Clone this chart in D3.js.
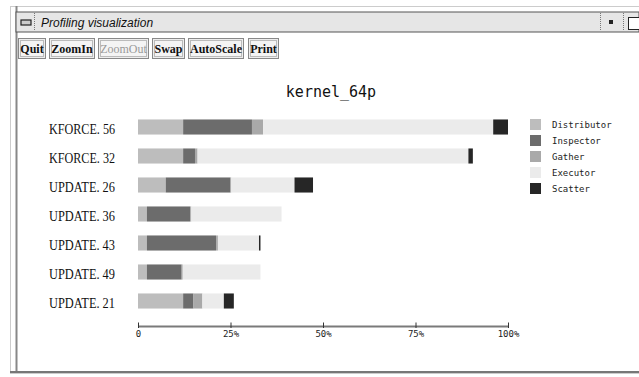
<!DOCTYPE html>
<html>
<head>
<meta charset="utf-8">
<script src="https://cdn.jsdelivr.net/npm/d3@7"></script>
<style>
  body { margin: 0; background: #fff; }
  svg { display: block; }
</style>
</head>
<body>
<div id="chart"></div>
<script>
// data (percent of total time)
var routines = ["KFORCE. 56", "KFORCE. 32", "UPDATE. 26", "UPDATE. 36", "UPDATE. 43", "UPDATE. 49", "UPDATE. 21"];
var phases = ["Distributor", "Inspector", "Gather", "Executor", "Scatter"];
var distributor = [12.2, 12.2, 7.5, 2.4, 2.4, 2.4, 12.2];
var inspector   = [18.6, 3.2, 17.5, 11.7, 18.7, 9.4, 2.8];
var gather      = [3.0, 0.7, 0.2, 0.3, 0.5, 0.3, 2.4];
var executor    = [62.2, 73.2, 17.1, 24.4, 11.1, 21.0, 5.8];
var scatter     = [4.0, 1.2, 5.0, 0, 0.4, 0, 2.7];
var tickValues = [0, 25, 50, 75, 100];
var buttons = ["Quit", "ZoomIn", "ZoomOut", "Swap", "AutoScale", "Print"];

var W = 639, H = 377;
var svg = d3.select("#chart").append("svg")
    .attr("width", W).attr("height", H);

//----------------------------
// window frame
//----------------------------
svg.append("rect").attr("x", 10.5).attr("y", 6.5).attr("width", 640).attr("height", 367)
    .attr("fill", "#fff").attr("stroke", "#999").attr("stroke-dasharray", "1,1");
svg.append("line").attr("x1", 16.5).attr("x2", 16.5).attr("y1", 6).attr("y2", 373)
    .attr("stroke", "#888").attr("stroke-width", 2);
svg.append("line").attr("x1", 10).attr("x2", 639).attr("y1", 372).attr("y2", 372)
    .attr("stroke", "#777").attr("stroke-width", 2);

// title bar
svg.append("rect").attr("x", 16).attr("y", 12).attr("width", 623).attr("height", 20)
    .attr("fill", "#e6e6e6").attr("stroke", "#555").attr("stroke-width", 1);
svg.append("rect").attr("x", 21).attr("y", 20).attr("width", 10).attr("height", 5)
    .attr("fill", "#ccc").attr("stroke", "#222").attr("stroke-width", 1.2);
[34, 600, 623].forEach(function (x) {
    svg.append("line").attr("x1", x + 0.5).attr("x2", x + 0.5).attr("y1", 13).attr("y2", 31)
        .attr("stroke", "#777").attr("stroke-dasharray", "1,1");
});
svg.append("rect").attr("x", 609).attr("y", 20).attr("width", 4).attr("height", 4).attr("fill", "#222");
svg.append("rect").attr("x", 628.5).attr("y", 17.5).attr("width", 14).attr("height", 12)
    .attr("fill", "#fff").attr("stroke", "#222");
svg.append("text").attr("x", 41).attr("y", 26.5)
    .attr("font-family", "Liberation Sans, sans-serif").attr("font-size", 12)
    .attr("font-style", "italic").attr("fill", "#111")
    .text("Profiling visualization");

// buttons
var bx = [18, 49, 98, 152, 188, 248];
var bw = [27, 45, 50, 32, 55, 30];
buttons.forEach(function (b, i) {
    var g = svg.append("g").attr("transform", "translate(" + bx[i] + ",38)");
    g.append("rect").attr("x", 0.5).attr("y", 0.5).attr("width", bw[i]).attr("height", 20)
        .attr("fill", "#eee").attr("stroke", "#888");
    g.append("rect").attr("x", 2.5).attr("y", 2.5).attr("width", bw[i] - 4).attr("height", 16)
        .attr("fill", "#f4f4f4").attr("stroke", "#bbb");
    g.append("text").attr("x", bw[i] / 2 + 0.5).attr("y", 15)
        .attr("text-anchor", "middle")
        .attr("font-family", "Liberation Serif, serif").attr("font-size", 12)
        .attr("font-weight", b === "ZoomOut" ? "normal" : "bold")
        .attr("fill", b === "ZoomOut" ? "#999" : "#111")
        .text(b);
});

//----------------------------
// chart
//----------------------------
var colors = d3.scaleOrdinal().domain(phases)
    .range(["#bdbdbd", "#6c6c6c", "#a9a9a9", "#ebebeb", "#262626"]);

var rows = routines.map(function (r, i) {
    return {name: r, Distributor: distributor[i], Inspector: inspector[i], Gather: gather[i],
        Executor: executor[i], Scatter: scatter[i]};
});
var stacked = d3.stack().keys(phases)(rows);

var x = d3.scaleLinear().domain([0, 100]).range([138, 508]);
var y = d3.scaleBand().domain(routines).range([112.5, 315.5])
    .paddingInner(0.48).paddingOuter(0.24);

svg.append("text").attr("x", 331).attr("y", 97).attr("text-anchor", "middle")
    .attr("font-family", "DejaVu Sans Mono, monospace").attr("font-size", 15)
    .attr("fill", "#111").text("kernel_64p");

svg.append("g").selectAll("g")
    .data(stacked)
    .enter().append("g")
    .attr("fill", function (d) { return colors(d.key); })
    .selectAll("rect")
    .data(function (d) { return d; })
    .enter().append("rect")
    .attr("x", function (d) { return x(d[0]); })
    .attr("width", function (d) { return x(d[1]) - x(d[0]); })
    .attr("y", function (d) { return y(d.data.name); })
    .attr("height", y.bandwidth());

// row labels
svg.append("g").selectAll("text")
    .data(routines)
    .enter().append("text")
    .attr("x", 49)
    .attr("y", function (d) { return y(d) + y.bandwidth() / 2 + 6.8; })
    .attr("font-family", "Liberation Serif, serif").attr("font-size", 15.5)
    .attr("textLength", 66).attr("lengthAdjust", "spacingAndGlyphs")
    .attr("fill", "#111")
    .text(function (d) { return d; });

// x axis
var axis = svg.append("g").attr("transform", "translate(0,326)")
    .call(d3.axisBottom(x).tickValues(tickValues)
        .tickSize(0)
        .tickFormat(function (d) { return d === 0 ? "0" : d + "%"; }));
axis.select(".domain").attr("stroke", "#7a7a7a").attr("stroke-width", 2);
axis.selectAll(".tick line").attr("y1", -3.5).attr("y2", 2).attr("stroke", "#333");
axis.selectAll(".tick text")
    .attr("y", 5)
    .attr("font-family", "DejaVu Sans Mono, monospace").attr("font-size", 9)
    .attr("fill", "#222");

// legend
var legend = svg.append("g").attr("transform", "translate(530,119)");
legend.selectAll("rect")
    .data(phases)
    .enter().append("rect")
    .attr("x", 0).attr("y", function (d, i) { return i * 16; })
    .attr("width", 11).attr("height", 11)
    .attr("fill", function (d) { return colors(d); });
legend.selectAll("text")
    .data(phases)
    .enter().append("text")
    .attr("x", 22).attr("y", function (d, i) { return i * 16 + 8.5; })
    .attr("font-family", "DejaVu Sans Mono, monospace").attr("font-size", 9)
    .attr("fill", "#222")
    .text(function (d) { return d; });
</script>
</body>
</html>
